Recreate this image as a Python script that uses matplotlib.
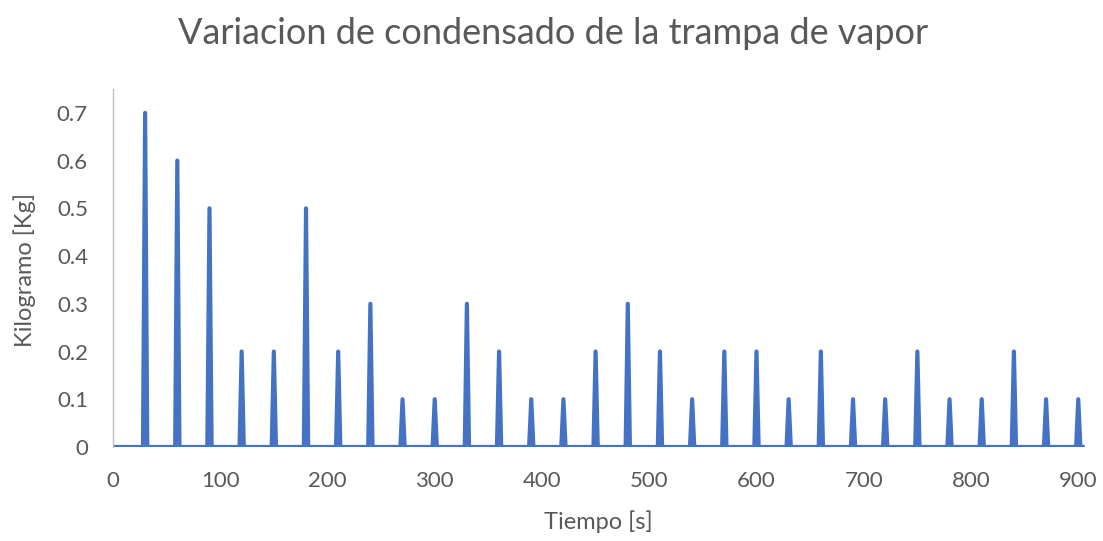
import numpy as np
import matplotlib.pyplot as plt

# condensate discharged at each trap cycle (every 30 s)
spike_times = [30, 60, 90, 120, 150, 180, 210, 240, 270, 300,
               330, 360, 390, 420, 450, 480, 510, 540, 570, 600,
               630, 660, 690, 720, 750, 780, 810, 840, 870, 900]
spike_kg = [0.7, 0.6, 0.5, 0.2, 0.2, 0.5, 0.2, 0.3, 0.1, 0.1,
            0.3, 0.2, 0.1, 0.1, 0.2, 0.3, 0.2, 0.1, 0.2, 0.2,
            0.1, 0.2, 0.1, 0.1, 0.2, 0.1, 0.1, 0.2, 0.1, 0.1]

# one reading every 2 s, zero between discharges
t = np.arange(0, 908, 2)
kg = np.zeros(len(t))
for ts, v in zip(spike_times, spike_kg):
    kg[t == ts] = v

plt.rcParams['font.family'] = ['Lato', 'DejaVu Sans']
gray = '#595959'

fig = plt.figure(figsize=(11.03, 5.41), dpi=100)
ax = fig.add_axes([0.1024, 0.1738, 0.881, 0.6617])
ax.plot(t, kg, color='#4472C4', linewidth=3.0, solid_joinstyle='round',
        solid_capstyle='butt')

ax.set_xlim(0, 906)
ax.set_ylim(0, 0.75)
ax.set_xticks(range(0, 901, 100))
ax.set_yticks([0, 0.1, 0.2, 0.3, 0.4, 0.5, 0.6, 0.7])
ax.set_yticklabels(['0', '0.1', '0.2', '0.3', '0.4', '0.5', '0.6', '0.7'])
ax.tick_params(length=0, labelsize=16, colors=gray)
ax.tick_params(axis='x', pad=17)
ax.tick_params(axis='y', pad=18)

for s in ['top', 'right', 'bottom']:
    ax.spines[s].set_visible(False)
ax.spines['left'].set_color('#BFBFBF')
ax.spines['left'].set_linewidth(1)

fig.text(598 / 1103, 1 - 522 / 541, 'Tiempo [s]', fontsize=17, color=gray,
         ha='center', va='center')
fig.text(25 / 1103, 1 - 270 / 541, 'Kilogramo [Kg]', fontsize=17, color=gray,
         ha='center', va='center', rotation=90)
fig.text(553 / 1103, 1 - 33 / 541,
         'Variacion de condensado de la trampa de vapor',
         fontsize=26, color=gray, ha='center', va='center')

fig.savefig('out.png', dpi=100)
